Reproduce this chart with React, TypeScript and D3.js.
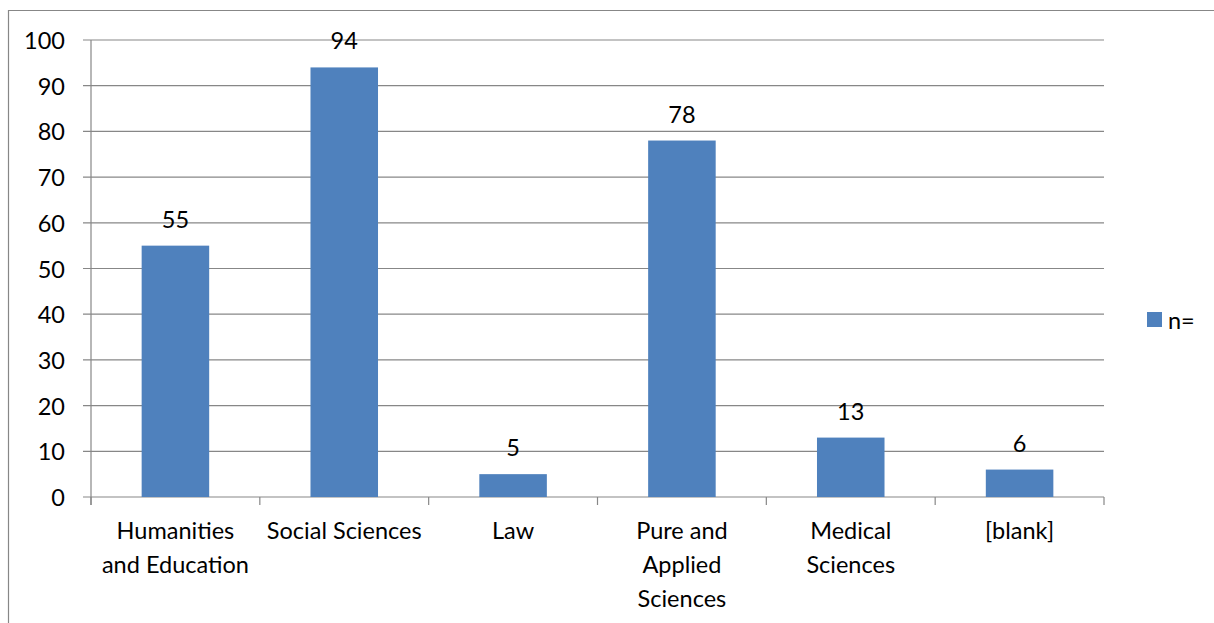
import React from "react";
import * as d3 from "d3";

const categories: string[][] = [
  ["Humanities", "and Education"],
  ["Social Sciences"],
  ["Law"],
  ["Pure and", "Applied", "Sciences"],
  ["Medical", "Sciences"],
  ["[blank]"],
];
const values: number[] = [55, 94, 5, 78, 13, 6];
const yTicks: number[] = [0, 10, 20, 30, 40, 50, 60, 70, 80, 90, 100];
const seriesName = "n=";

const W = 1214;
const H = 623;
const left = 91;
const right = 1104;
const top = 40;
const bottom = 497;
const FONT = "Lato, 'Open Sans', sans-serif";
const FS = 23.5;
const BAR = "#4F81BD";
const GRID = "#878787";

export default function App() {
  const x = d3
    .scaleBand<number>()
    .domain(values.map((_, i) => i))
    .range([left, right])
    .paddingInner(0.6)
    .paddingOuter(0.3);
  const y = d3.scaleLinear().domain([0, 100]).range([bottom, top]);
  const step = (right - left) / values.length;

  return (
    <svg
      width={W}
      height={H}
      style={{ position: "absolute", left: 0, top: 0 }}
      fontFamily={FONT}
    >
      <rect x={0} y={0} width={W} height={H} fill="#fff" />
      {/* outer border */}
      <path d={`M8.5,${H + 5} V10.5 H${W + 5}`} fill="none" stroke={GRID} strokeWidth={1.2} />
      {/* gridlines */}
      {yTicks.map((t) => (
        <g key={t}>
          <line x1={83} x2={right} y1={y(t)} y2={y(t)} stroke={GRID} strokeWidth={1.2} />
          <text
            x={65}
            y={y(t)}
            textAnchor="end"
            dominantBaseline="central"
            fontSize={FS}
            fill="#000"
          >
            {t}
          </text>
        </g>
      ))}
      {/* y axis */}
      <line x1={left} x2={left} y1={top} y2={bottom + 8} stroke={GRID} strokeWidth={1.2} />
      {/* category ticks */}
      {d3.range(values.length + 1).map((i) => (
        <line
          key={i}
          x1={left + i * step}
          x2={left + i * step}
          y1={bottom}
          y2={bottom + 8}
          stroke={GRID}
          strokeWidth={1.2}
        />
      ))}
      {/* bars */}
      {values.map((v, i) => (
        <rect
          key={i}
          x={x(i)!}
          y={y(v)}
          width={x.bandwidth()}
          height={y(0) - y(v)}
          fill={BAR}
        />
      ))}
      {/* data labels */}
      {values.map((v, i) => (
        <text
          key={i}
          x={x(i)! + x.bandwidth() / 2}
          y={y(v) - 27}
          textAnchor="middle"
          dominantBaseline="central"
          fontSize={FS}
          fill="#000"
        >
          {v}
        </text>
      ))}
      {/* category labels */}
      {categories.map((lines, i) => (
        <text
          key={i}
          x={x(i)! + x.bandwidth() / 2}
          textAnchor="middle"
          fontSize={FS}
          fill="#000"
        >
          {lines.map((l, j) => (
            <tspan key={j} x={x(i)! + x.bandwidth() / 2} y={530 + j * 34} dominantBaseline="central">
              {l}
            </tspan>
          ))}
        </text>
      ))}
      {/* legend */}
      <rect x={1147} y={312} width={15} height={15} fill={BAR} />
      <text x={1168} y={320} dominantBaseline="central" fontSize={FS} fill="#000">
        {seriesName}
      </text>
    </svg>
  );
}
